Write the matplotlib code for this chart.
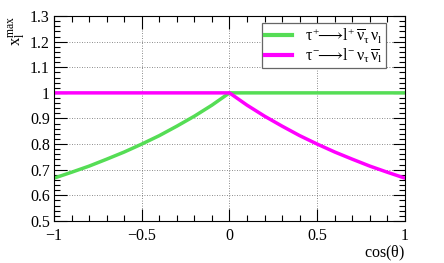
import matplotlib.pyplot as plt
from matplotlib.ticker import MultipleLocator

plt.rcParams['font.family'] = ['Liberation Serif', 'DejaVu Serif']
plt.rcParams['mathtext.fontset'] = 'custom'
plt.rcParams['mathtext.rm'] = 'Liberation Serif'
plt.rcParams['mathtext.it'] = 'Liberation Serif'
plt.rcParams['mathtext.fallback'] = 'stix'

# values
cos_neg = [-1.0, -0.9, -0.8, -0.7, -0.6, -0.5, -0.4, -0.3, -0.2, -0.1, 0.0]
curve_neg = [0.667, 0.690, 0.714, 0.741, 0.769, 0.800, 0.833, 0.870, 0.909, 0.952, 1.0]
cos_pos = [0.0, 0.1, 0.2, 0.3, 0.4, 0.5, 0.6, 0.7, 0.8, 0.9, 1.0]
curve_pos = [1.0, 0.952, 0.909, 0.870, 0.833, 0.800, 0.769, 0.741, 0.714, 0.690, 0.667]
flat = [1.0] * 11

green = '#55dd55'
magenta = '#ff00ff'

fig = plt.figure(figsize=(4.44, 2.63), dpi=100)
ax = fig.add_axes([0.1216, 0.16, 0.7905, 0.779])

# tau+ : rises for cos<0, flat after
ax.plot(cos_neg + cos_pos[1:], curve_neg + flat[1:], color=green, lw=2.5,
        label=r'$\tau^{+}\!\!\longrightarrow\!\mathrm{l}^{+}\,\overline{\nu}_{\tau}\,\nu_{\mathrm{l}}$')
# tau- : flat for cos<0, falls after
ax.plot(cos_neg + cos_pos[1:], flat + curve_pos[1:], color=magenta, lw=2.5,
        label=r'$\tau^{-}\!\!\longrightarrow\!\mathrm{l}^{-}\,\nu_{\tau}\,\overline{\nu}_{\mathrm{l}}$')

ax.set_xlim(-1, 1)
ax.set_ylim(0.5, 1.3)
ax.xaxis.set_minor_locator(MultipleLocator(0.1))
ax.yaxis.set_minor_locator(MultipleLocator(0.02))
ax.set_xticks([-1, -0.5, 0, 0.5, 1])
ax.set_xticklabels(['\u22121', '\u22120.5', '0', '0.5', '1'])
ax.set_yticks([0.5, 0.6, 0.7, 0.8, 0.9, 1.0, 1.1, 1.2, 1.3])
ax.set_yticklabels(['0.5', '0.6', '0.7', '0.8', '0.9', '1', '1.1', '1.2', '1.3'])
ax.tick_params(which='both', direction='in', top=True, right=True, labelsize=11.5)
ax.tick_params(which='major', length=9, width=0.8)
ax.tick_params(which='minor', length=4.5, width=0.8)
ax.tick_params(axis='x', pad=5)
ax.tick_params(axis='y', pad=3)
ax.grid(True, which='major', linestyle=(0, (1, 2)), color='#666666', lw=0.6)

ax.set_xlabel(r'cos($\theta$)', fontsize=11.5, ha='right', x=1.0, labelpad=0)
ax.set_ylabel(r'x$_{\mathrm{l}}^{\mathrm{max}}$', fontsize=12, ha='right', y=1.0, labelpad=2)

leg = ax.legend(loc='upper right', bbox_to_anchor=(0.946, 0.966), fontsize=11.5,
                fancybox=False, framealpha=1, edgecolor='#666666',
                handlelength=1.7, borderpad=0.2, labelspacing=0.1,
                borderaxespad=0, handletextpad=0.8)
leg.get_frame().set_linewidth(0.9)
for line in leg.get_lines():
    line.set_linewidth(3)

fig.savefig('out.png', dpi=100)
